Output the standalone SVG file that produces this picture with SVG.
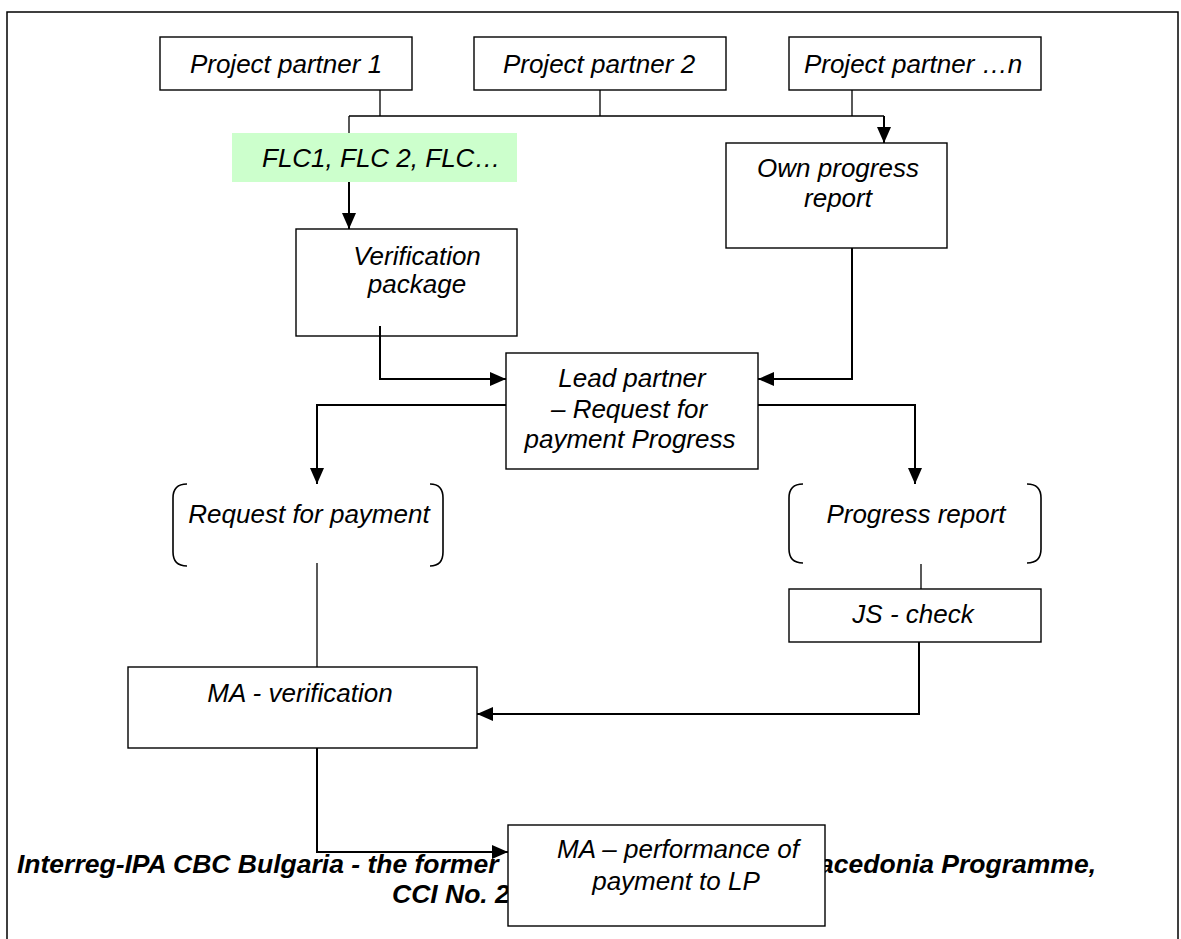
<svg xmlns="http://www.w3.org/2000/svg" width="1181" height="939" viewBox="0 0 1181 939">
<style>
.box{fill:#fff;stroke:#000;stroke-width:1.4}
.t{font-family:"Liberation Sans",Arial,sans-serif;font-style:italic;font-size:26px;fill:#000}
.c{text-anchor:middle}
.ln{fill:none;stroke:#000;stroke-width:1.3}
.ar{fill:none;stroke:#000;stroke-width:2;marker-end:url(#ah)}
.br{fill:none;stroke:#000;stroke-width:1.6}
.foot{font-family:"Liberation Sans",Arial,sans-serif;font-style:italic;font-weight:bold;font-size:26.5px;fill:#000}
</style>
<defs>
<marker id="ah" markerUnits="userSpaceOnUse" markerWidth="16" markerHeight="14" viewBox="0 0 16 14" refX="16" refY="7" orient="auto">
<path d="M0,0 L16,7 L0,14 Z" fill="#000"/>
</marker>
</defs>
<rect x="7" y="12" width="1171" height="940" fill="#fff" stroke="#000" stroke-width="1.5"/>
<g id="footer">
<text class="foot" x="17" y="873">Interreg-IPA CBC Bulgaria - the former</text>
<text class="foot" x="1096" y="873" text-anchor="end">acedonia Programme,</text>
<text class="foot" x="392" y="903">CCI No. 2</text>
</g>
<g id="pp1"><rect class="box" x="160" y="37" width="252" height="53"/><text class="t c" x="286" y="73">Project partner 1</text></g>
<g id="pp2"><rect class="box" x="474" y="37" width="252" height="53"/><text class="t c" x="599" y="73">Project partner 2</text></g>
<g id="ppn"><rect class="box" x="789" y="37" width="252" height="53"/><text class="t c" x="913" y="73">Project partner …n</text></g>
<g id="flc"><rect x="232" y="133" width="285" height="49" fill="#ccffcc"/><text class="t" x="262" y="167">FLC1, FLC 2, FLC…</text></g>
<g id="own"><rect class="box" x="726" y="143" width="221" height="105"/><text class="t c" x="838" y="177">Own progress</text><text class="t c" x="838" y="207">report</text></g>
<g id="verif"><rect class="box" x="296" y="229" width="221" height="107"/><text class="t c" x="417" y="265">Verification</text><text class="t c" x="417" y="293">package</text></g>
<g id="lead"><rect class="box" x="506" y="353" width="252" height="116"/><text class="t c" x="632" y="387">Lead partner</text><text class="t c" x="629" y="418">– Request for</text><text class="t c" x="630" y="448">payment Progress</text></g>
<g id="request"><path class="br" d="M187,484 Q173,484 173,498 V552 Q173,566 187,566 M430,484 Q443,484 443,498 V552 Q443,566 430,566"/><text class="t c" x="309" y="523">Request for payment</text></g>
<g id="progress"><path class="br" d="M803,484 Q789,484 789,498 V549 Q789,563 803,563 M1027,484 Q1041,484 1041,498 V549 Q1041,563 1027,563"/><text class="t c" x="916" y="523">Progress report</text></g>
<g id="js"><rect class="box" x="789" y="589" width="252" height="53"/><text class="t c" x="913" y="623">JS - check</text></g>
<g id="maverif"><rect class="box" x="128" y="667" width="349" height="81"/><text class="t c" x="300" y="702">MA - verification</text></g>
<g id="maperf"><rect class="box" x="508" y="825" width="317" height="101"/><text class="t c" x="678" y="858">MA – performance of</text><text class="t c" x="676" y="890">payment to LP</text></g>
<g id="connectors">
<path class="ln" d="M380,90 V116 M600,90 V116 M852,90 V116 M349,116 H884 M349,116 V133"/>
<path class="ar" d="M884,116 V143"/>
<path class="ar" d="M349,182 V229"/>
<path class="ar" d="M380,326 V379 H506"/>
<path class="ar" d="M852,248 V379 H758"/>
<path class="ar" d="M506,405 H317 V484"/>
<path class="ar" d="M758,405 H915 V484"/>
<path class="ln" d="M317,563 V667"/>
<path class="ln" d="M921,564 V589"/>
<path class="ar" d="M919,642 V714 H477"/>
<path class="ar" d="M317,748 V852 H508"/>
</g>
</svg>
